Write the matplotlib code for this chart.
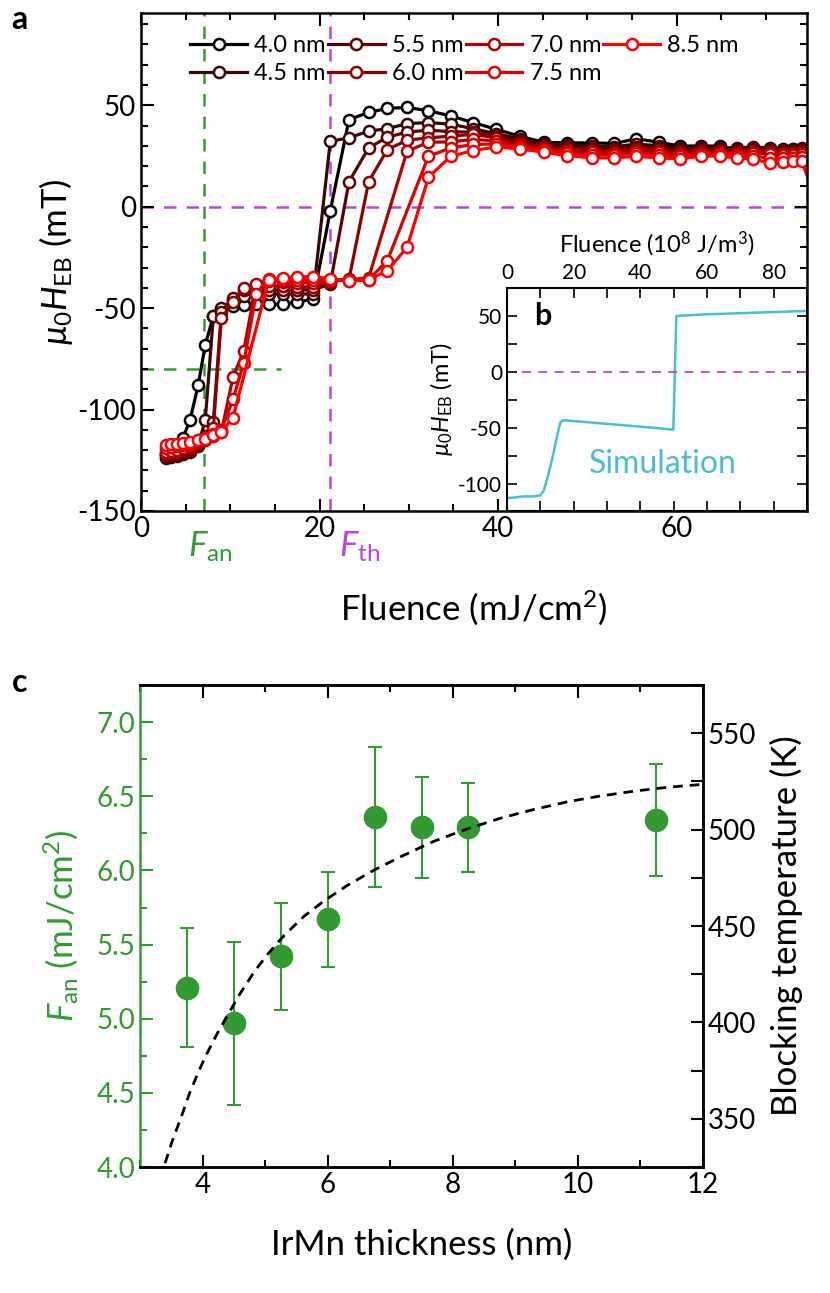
import numpy as np
import matplotlib
matplotlib.use('Agg')
import matplotlib.pyplot as plt
import matplotlib.transforms as mtransforms
from matplotlib.ticker import MultipleLocator

plt.rcParams['font.family'] = ['Lato', 'DejaVu Sans']
plt.rcParams['mathtext.fontset'] = 'custom'
plt.rcParams['mathtext.rm'] = 'Lato'
plt.rcParams['mathtext.it'] = 'Lato:italic'
plt.rcParams['mathtext.bf'] = 'Lato:bold'
plt.rcParams['mathtext.fallback'] = 'stixsans'

# ---- panel a : exchange bias vs fluence ----
fluence = [2.8, 3.4, 4.0, 4.7, 5.5, 6.4, 7.2, 8.1, 9.0, 10.3, 11.5, 12.9, 14.3, 15.9,
           17.5, 19.3, 21.2, 23.3, 25.5, 27.6, 29.8, 32.2, 34.7, 37.2, 39.8, 42.4,
           45.1, 47.7, 50.5, 53.0, 55.5, 58.0, 60.4, 62.7, 64.8, 66.8, 68.6, 70.4,
           71.9, 73.0, 74.0, 75.5]
labels = ['4.0 nm', '4.5 nm', '5.5 nm', '6.0 nm', '7.0 nm', '7.5 nm', '8.5 nm']
colors = ['#000000', '#3a0606', '#600000', '#8c0000', '#b50000', '#dc0000', '#ff0000']

heb_40 = [-122, -121.5, -120, -114, -105, -88, -68, -54, -50.5, -49, -48.5, -48, -48, -48,
          -47, -45.5, -2, 43, 46.5, 48.5, 49, 47.3, 44.8,
          41.5, 38.2, 34.8, 31.8, 31.5, 31.5, 31.2, 33.5, 31.8, 29.9, 30.0, 29.9, 28.3, 25.0,
          28.5, 28.5, 28.5, 28.5, None]
heb_45 = [-124, -123.5, -123, -122, -121, -118, -105, -54, -50, -46, -44, -43, -43, -43,
          -43, -43, 32.3, 34, 37.3, 38.5, 41, 41.5, 40.7,
          38.5, 36, 33.5, 31, 30.5, 30, 29.5, 31, 30, 29, 29.5, 29, 29, 29.5,
          29, 28, 28.5, 29, None]
heb_55 = [-123, -122.5, -122, -121, -120, -117, -113, -106, -52, -45, -41, -40.5, -41, -41,
          -41, -41, -38, 12.4, 29, 34.3, 36.8, 37.8, 37,
          36.8, 35, 32.5, 30, 29.5, 29, 28.5, 29.5, 29, 28, 28.5, 28.5, 28, 28.5,
          28, 27.5, 27.5, 28, None]
heb_60 = [-122, -121.5, -121, -120, -119, -116, -114, -109, -55, -47, -40, -38.5, -39, -39,
          -39.5, -39.5, -37, -35.6, 12.4, 28.2, 32.8, 34, 34.8,
          35.7, 34, 31.5, 29.5, 28.5, 28, 27.5, 28.5, 28, 27, 27.5, 27.5, 27, 27.5,
          27, 26.5, 26.5, 27, None]
heb_70 = [-121, -120.5, -120, -119, -118, -116, -115, -113, -111, -84, -71, -38, -36.5, -37,
          -37.5, -37.5, -36.5, -36, -35, None, 27.4, 31.8, 32,
          33.2, 32.5, 30.5, 28.5, 27.5, 27, 26.5, 27.5, 27, 26, 26.5, 26.5, 26, 26.5,
          26, 25.5, 25.5, 26, None]
heb_75 = [-119, -118.5, -118, -117.5, -117, -115, -114, -112, -110, -95, -77, -43, -35.5, -36,
          -36, -36, -36, -36.5, -36, -26.5, None, 24.9, 29,
          30.7, 31, 29.5, 28, 26.5, 25.5, 25.5, 26.5, 25.5, 25, 25.5, 26, 25, 25,
          24, 24, 24, 24.5, None]
heb_85 = [-117.5, -117, -117, -116.5, -116, -115, -114.4, -112.7, -111, -104, None, None, -36, -35,
          -34.5, -34.5, -35.5, -36.5, -36, -31.5, -20, 14.6, 24.9,
          27.7, 29.5, 28.5, 26.9, 25.2, 24.1, 24.1, 24.9, 24.1, 23.6, 25, 25, 24, 23.5,
          21.6, 22, 22.5, 22.5, 5]
heb_all = [heb_40, heb_45, heb_55, heb_60, heb_70, heb_75, heb_85]

f_an = 7.0
f_th = 21.2
h_an = -80

# ---- panel b : simulation ----
sim_fluence = [0, 2, 5, 8, 10, 11, 12, 13.2, 14.2, 15.2, 16, 16.8, 25, 35, 45, 49.9, 50.8,
               60, 70, 80, 90]
sim_heb = [-112.5, -112, -111, -111, -110, -106, -96, -82, -69, -55, -45, -43, -45, -47.5,
           -50, -51.5, 50, 51.5, 52.5, 53.5, 54.5]

# ---- panel c : F_an and blocking temperature vs thickness ----
thick = [3.75, 4.5, 5.25, 6.0, 6.75, 7.5, 8.25, 11.25]
fan_vals = [5.21, 4.97, 5.42, 5.67, 6.36, 6.29, 6.29, 6.34]
fan_err = [0.40, 0.55, 0.36, 0.32, 0.47, 0.34, 0.30, 0.38]
tb_thick = [3.40, 3.51, 3.67, 3.80, 3.93, 4.04, 4.23, 4.44, 4.60, 4.82, 5.03, 5.30, 5.62,
            5.94, 6.31, 6.74, 7.17, 7.70, 8.24, 8.77, 9.30, 9.84, 10.37, 10.91, 11.44, 12.0]
tb_vals = [327, 338, 352, 364, 374, 382, 394, 406, 415, 426, 435, 445, 455, 463, 471, 479,
           486, 494, 500.5, 506, 510.5, 514.5, 517.5, 520, 522, 523.5]

green = '#339a33'
purple = '#bb44dd'
cyan = '#4bbdd0'

fig = plt.figure(figsize=(8.30, 12.93), dpi=100)


def style_ticks(ax, size=20):
    ax.tick_params(which='both', direction='in', top=True, right=True, width=1.5,
                   labelsize=size)
    ax.tick_params(which='major', length=9)
    ax.tick_params(which='minor', length=5)
    for s in ax.spines.values():
        s.set_linewidth(1.8)


# panel a
ax = fig.add_axes([0.1699, 0.6048, 0.8024, 0.3851])
F = np.array(fluence)
for vals, lab, c in zip(heb_all, labels, colors):
    y = np.array([np.nan if v is None else v for v in vals], dtype=float)
    m = ~np.isnan(y)
    ax.plot(F[m], y[m], '-o', color=c, lw=2.3, ms=8, mfc='white', mec=c, mew=1.8,
            label=lab)
ax.axvline(f_an, color=green, lw=1.8, dashes=(5, 4), zorder=1)
ax.plot([0, 15.7], [h_an, h_an], color=green, lw=1.8, dashes=(5, 4), zorder=1)
ax.axvline(f_th, color=purple, lw=1.8, dashes=(5, 4), zorder=1)
ax.axhline(0, color=purple, lw=1.8, dashes=(5, 4), zorder=1)
ax.set_xlim(0, 74.6)
ax.set_ylim(-150, 95.5)
ax.xaxis.set_major_locator(MultipleLocator(20))
ax.xaxis.set_minor_locator(MultipleLocator(5))
ax.yaxis.set_major_locator(MultipleLocator(50))
ax.yaxis.set_minor_locator(MultipleLocator(10))
ax.set_yticks([-150, -100, -50, 0, 50])
ax.set_yticklabels(['-150', '-100', '-50', '0', '50'])
style_ticks(ax)
ax.set_xlabel('Fluence (mJ/cm$^2$)', fontsize=25, labelpad=34)
ax.set_ylabel(r'$\mu_0H_{\rm EB}$ (mT)', fontsize=25, labelpad=2)
tr = mtransforms.blended_transform_factory(ax.transData, ax.transAxes)
ax.text(7.7, -0.072, r'$F_{\rm an}$', color=green, fontsize=25, ha='center', va='center',
        transform=tr)
ax.text(24.5, -0.072, r'$F_{\rm th}$', color=purple, fontsize=25, ha='center', va='center',
        transform=tr)
ax.legend(loc='upper left', bbox_to_anchor=(0.06, 0.975), ncol=4, frameon=False,
          fontsize=17, handlelength=2.4, handletextpad=0.3, columnspacing=0.1,
          labelspacing=0.3, borderaxespad=0)

# panel b inset
axb = fig.add_axes([0.6108, 0.6048, 0.3615, 0.1725])
axb.set_zorder(5)
axb.set_facecolor('white')
axb.plot(sim_fluence, sim_heb, color=cyan, lw=1.8)
axb.axhline(0, color=purple, lw=1.3, dashes=(5, 4), xmin=0.05)
axb.set_xlim(0, 90)
axb.set_ylim(-124, 75)
axb.xaxis.set_major_locator(MultipleLocator(20))
axb.xaxis.set_minor_locator(MultipleLocator(10))
axb.set_yticks([-100, -50, 0, 50])
axb.set_yticklabels(['-100', '-50', '0', '50'])
axb.yaxis.set_minor_locator(MultipleLocator(25))
axb.tick_params(which='both', direction='in', top=True, right=True, bottom=True,
                labeltop=True, labelbottom=False, labelsize=15, width=1.2)
axb.tick_params(which='major', length=7)
axb.tick_params(which='minor', length=7)
for s in axb.spines.values():
    s.set_linewidth(1.5)
axb.xaxis.set_label_position('top')
axb.set_xlabel('Fluence (10$^8$ J/m$^3$)', fontsize=17, labelpad=8)
axb.set_ylabel(r'$\mu_0H_{\rm EB}$ (mT)', fontsize=17, labelpad=2)
axb.text(0.09, 0.875, 'b', transform=axb.transAxes, fontsize=22, fontweight='bold',
         va='center')
axb.text(0.52, 0.21, 'Simulation', transform=axb.transAxes, fontsize=23, color=cyan,
         ha='center', va='center')

# panel c
axc = fig.add_axes([0.1687, 0.0974, 0.6783, 0.3728])
axc.errorbar(thick, fan_vals, yerr=fan_err, fmt='o', color=green, ms=16, mec=green,
             ecolor=green, elinewidth=1.5, capsize=5, capthick=1.5, zorder=3)
axc.set_xlim(3, 12)
axc.set_ylim(4.0, 7.25)
axc.xaxis.set_major_locator(MultipleLocator(2))
axc.xaxis.set_minor_locator(MultipleLocator(1))
axc.yaxis.set_major_locator(MultipleLocator(0.5))
axc.yaxis.set_minor_locator(MultipleLocator(0.25))
axc.tick_params(which='both', direction='in', top=True, right=False, width=1.5,
                labelsize=20)
axc.tick_params(which='major', length=9)
axc.tick_params(which='minor', length=5)
axc.tick_params(axis='y', which='both', colors=green, labelcolor=green)
for s in axc.spines.values():
    s.set_linewidth(1.8)
axc.spines['left'].set_color(green)
axc.set_xlabel('IrMn thickness (nm)', fontsize=25, labelpad=22)
axc.set_ylabel(r'$F_{\rm an}$ (mJ/cm$^2$)', fontsize=25, color=green, labelpad=12)

axt = axc.twinx()
axt.plot(tb_thick, tb_vals, color='black', lw=2, dashes=(3.5, 2.5))
axt.set_ylim(325, 575)
axt.yaxis.set_major_locator(MultipleLocator(50))
axt.yaxis.set_minor_locator(MultipleLocator(25))
axt.tick_params(which='both', direction='in', width=1.5, labelsize=20)
axt.tick_params(which='major', length=9)
axt.tick_params(which='minor', length=9)
for s in axt.spines.values():
    s.set_linewidth(1.8)
axt.spines['left'].set_visible(False)
axt.set_ylabel('Blocking temperature (K)', fontsize=25, labelpad=10)

fig.text(0.014, 0.985, 'a', fontsize=23, fontweight='bold', va='center')
fig.text(0.014, 0.472, 'c', fontsize=23, fontweight='bold', va='center')

fig.savefig('out.png', dpi=100)
